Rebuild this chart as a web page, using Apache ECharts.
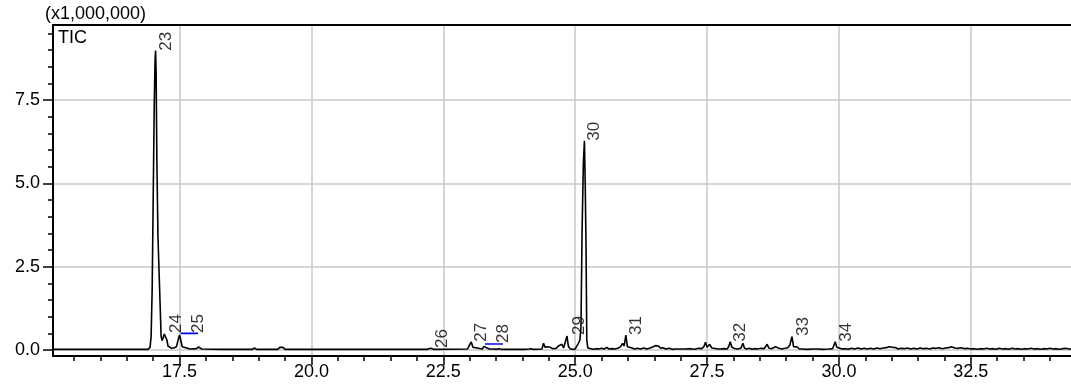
<!DOCTYPE html>
<html>
<head>
<meta charset="utf-8">
<script src="https://cdn.jsdelivr.net/npm/echarts@6/dist/echarts.min.js"></script>
<style>
  html, body { margin: 0; padding: 0; background: #fff; }
  #chart { width: 1071px; height: 385px; }
</style>
</head>
<body>
<div id="chart"></div>
<script>
// Total ion chromatogram: retention time (min) vs. intensity (x1,000,000)
const traceTimes = [
  15.10, 16.00, 16.90, 16.94, 16.96, 16.98, 17.00, 17.02, 17.035, 17.045, 17.055, 17.07, 17.09, 17.11, 17.13,
  17.15, 17.17, 17.19, 17.21, 17.235, 17.26, 17.28, 17.31, 17.35, 17.40, 17.44, 17.48, 17.50, 17.52, 17.55,
  17.58, 17.70, 17.82, 17.86, 17.89, 17.92, 18.30, 18.88, 18.92, 18.96, 19.36, 19.40, 19.46, 19.50, 19.78,
  19.81, 19.84, 22.20, 22.26, 22.31, 22.96, 23.00, 23.03, 23.06, 23.09, 23.24, 23.27, 23.30, 23.33, 23.37,
  23.45, 23.48, 23.51, 23.55, 23.60, 23.72, 23.75, 23.78, 24.05, 24.08, 24.12, 24.16, 24.20, 24.37, 24.40,
  24.43, 24.47, 24.50, 24.53, 24.57, 24.60, 24.64, 24.68, 24.71, 24.75, 24.78, 24.80, 24.845, 24.87, 24.90,
  24.95, 25.00, 25.03, 25.06, 25.09, 25.11, 25.13, 25.155, 25.175, 25.19, 25.205, 25.22, 25.24, 25.30, 25.35,
  25.40, 25.45, 25.50, 25.55, 25.60, 25.64, 25.70, 25.76, 25.82, 25.86, 25.90, 25.93, 25.96, 25.99, 26.02,
  26.08, 26.12, 26.18, 26.24, 26.30, 26.36, 26.42, 26.48, 26.52, 26.55, 26.58, 26.62, 26.66, 26.72, 26.78,
  26.84, 26.90, 27.00, 27.10, 27.18, 27.26, 27.34, 27.40, 27.44, 27.47, 27.50, 27.55, 27.59, 27.63, 27.66,
  27.70, 27.76, 27.82, 27.88, 27.91, 27.94, 27.97, 28.01, 28.06, 28.10, 28.14, 28.18, 28.21, 28.25, 28.30,
  28.35, 28.40, 28.46, 28.52, 28.58, 28.61, 28.64, 28.67, 28.72, 28.76, 28.80, 28.83, 28.86, 28.92, 28.98,
  29.03, 29.07, 29.11, 29.14, 29.17, 29.21, 29.25, 29.32, 29.40, 29.50, 29.60, 29.70, 29.80, 29.88, 29.93,
  29.96, 29.99, 30.06, 30.12, 30.18, 30.24, 30.30, 30.36, 30.42, 30.48, 30.54, 30.60, 30.66, 30.72, 30.78,
  30.84, 30.90, 30.95, 30.98, 31.02, 31.08, 31.12, 31.18, 31.24, 31.30, 31.36, 31.42, 31.48, 31.54, 31.60,
  31.66, 31.72, 31.78, 31.84, 31.90, 31.96, 32.02, 32.08, 32.13, 32.16, 32.20, 32.26, 32.32, 32.38, 32.44,
  32.50, 32.56, 32.62, 32.68, 32.74, 32.80, 32.86, 32.92, 32.98, 33.04, 33.10, 33.16, 33.22, 33.28, 33.34,
  33.40, 33.46, 33.52, 33.58, 33.64, 33.70, 33.76, 33.82, 33.88, 33.94, 34.00, 34.06, 34.12, 34.18, 34.24,
  34.30, 34.36, 34.40
];
const traceIntensity = [
  0.02, 0.02, 0.02, 0.08, 0.40, 1.80, 4.60, 7.40, 8.70, 8.98, 8.30, 5.60, 3.40, 2.40, 1.40,
  0.40, 0.28, 0.34, 0.48, 0.51, 0.30, 0.12, 0.06, 0.05, 0.07, 0.10, 0.35, 0.45, 0.40, 0.10,
  0.04, 0.03, 0.04, 0.09, 0.09, 0.03, 0.02, 0.02, 0.06, 0.02, 0.02, 0.08, 0.08, 0.02, 0.02,
  0.05, 0.02, 0.02, 0.05, 0.02, 0.03, 0.16, 0.24, 0.08, 0.03, 0.03, 0.11, 0.15, 0.06, 0.03,
  0.03, 0.05, 0.02, 0.04, 0.02, 0.02, 0.05, 0.02, 0.02, 0.04, 0.03, 0.04, 0.02, 0.03, 0.20,
  0.08, 0.10, 0.05, 0.08, 0.04, 0.07, 0.05, 0.12, 0.06, 0.17, 0.06, 0.10, 0.42, 0.12, 0.04,
  0.02, 0.03, 0.05, 0.20, 0.30, 0.70, 3.50, 5.60, 6.28, 5.00, 3.20, 0.30, 0.06, 0.04, 0.02,
  0.04, 0.03, 0.05, 0.03, 0.08, 0.03, 0.04, 0.03, 0.06, 0.10, 0.20, 0.12, 0.45, 0.10, 0.04,
  0.06, 0.03, 0.05, 0.03, 0.06, 0.03, 0.06, 0.10, 0.13, 0.08, 0.12, 0.05, 0.07, 0.03, 0.05,
  0.02, 0.03, 0.03, 0.03, 0.04, 0.02, 0.05, 0.04, 0.10, 0.23, 0.08, 0.17, 0.06, 0.05, 0.08,
  0.03, 0.03, 0.04, 0.03, 0.10, 0.25, 0.08, 0.05, 0.03, 0.04, 0.05, 0.20, 0.05, 0.03, 0.05,
  0.02, 0.04, 0.03, 0.05, 0.04, 0.08, 0.17, 0.06, 0.04, 0.07, 0.10, 0.12, 0.05, 0.03, 0.05,
  0.07, 0.15, 0.40, 0.10, 0.06, 0.09, 0.03, 0.03, 0.02, 0.03, 0.03, 0.02, 0.03, 0.04, 0.25,
  0.08, 0.04, 0.03, 0.04, 0.02, 0.05, 0.03, 0.06, 0.03, 0.05, 0.03, 0.05, 0.03, 0.06, 0.04,
  0.06, 0.07, 0.10, 0.13, 0.08, 0.07, 0.03, 0.05, 0.04, 0.06, 0.03, 0.05, 0.03, 0.06, 0.04,
  0.05, 0.03, 0.06, 0.05, 0.07, 0.04, 0.06, 0.07, 0.10, 0.14, 0.06, 0.05, 0.07, 0.04, 0.05,
  0.03, 0.04, 0.02, 0.04, 0.03, 0.05, 0.03, 0.04, 0.02, 0.05, 0.03, 0.04, 0.02, 0.05, 0.03,
  0.04, 0.02, 0.04, 0.03, 0.05, 0.03, 0.04, 0.02, 0.04, 0.03, 0.05, 0.03, 0.04, 0.02, 0.04,
  0.05, 0.03, 0.03
];

// Peak numbers and the retention time / height where each number is placed
const peakIds = ['23', '24', '25', '26', '27', '28', '29', '30', '31', '32', '33', '34'];
const peakTimes = [17.05, 17.253, 17.66, 22.30, 23.04, 23.44, 24.88, 25.175, 25.965, 27.94, 29.13, 29.96];
const peakHeights = [8.98, 0.51, 0.51, 0.06, 0.25, 0.21, 0.45, 6.28, 0.45, 0.25, 0.42, 0.25];

// Integration baselines drawn under unresolved peak groups
const baselineStarts = [17.52, 23.29];
const baselineEnds = [17.85, 23.63];
const baselineLevels = [0.50, 0.18];

// Axis ticks
const xMajorTicks = [17.5, 20.0, 22.5, 25.0, 27.5, 30.0, 32.5];
const xMinorTicks = [15.5, 16.0, 16.5, 17.0, 18.0, 18.5, 19.0, 19.5, 20.5, 21.0, 21.5, 22.0, 23.0, 23.5, 24.0,
  24.5, 25.5, 26.0, 26.5, 27.0, 28.0, 28.5, 29.0, 29.5, 30.5, 31.0, 31.5, 32.0, 33.0, 33.5, 34.0];
const yMajorTicks = [0.0, 2.5, 5.0, 7.5];
const yMinorTicks = [0.5, 1.0, 1.5, 2.0, 3.0, 3.5, 4.0, 4.5, 5.5, 6.0, 6.5, 7.0, 8.0, 8.5, 9.0, 9.5];

const X_MIN = 15.1, X_MAX = 34.4, Y_MIN = -0.18, Y_MAX = 9.75;
const FONT = '"Liberation Sans", Arial, sans-serif';
const gridBox = { left: 53, right: 0, top: 25, bottom: 29, containLabel: false };

const chart = echarts.init(document.getElementById('chart'), null, { renderer: 'canvas' });

const traceData = traceTimes.map((t, i) => [t, traceIntensity[i]]);
const peakData = peakIds.map((id, i) => ({ value: [peakTimes[i], peakHeights[i]], name: id }));
const baselineSeries = baselineStarts.map((s, i) => ({
  type: 'line',
  xAxisIndex: 0, yAxisIndex: 0,
  data: [[s, baselineLevels[i]], [baselineEnds[i], baselineLevels[i]]],
  showSymbol: false,
  silent: true,
  lineStyle: { color: '#0000ff', width: 1.6 },
  z: 4
}));

const hidden = { show: false };

chart.setOption({
  animation: false,
  backgroundColor: '#ffffff',
  grid: [
    Object.assign({}, gridBox),
    Object.assign({}, gridBox)
  ],
  xAxis: [
    {
      gridIndex: 0, type: 'value', position: 'bottom', min: X_MIN, max: X_MAX,
      axisLine: { show: true, onZero: false, lineStyle: { color: '#000', width: 2 } },
      axisTick: { show: true, customValues: xMajorTicks, length: 9, lineStyle: { color: '#000', width: 1.5 } },
      axisLabel: {
        customValues: xMajorTicks, margin: 7, color: '#000', fontFamily: FONT, fontSize: 18,
        formatter: v => v.toFixed(1)
      },
      splitLine: { show: true, lineStyle: { color: '#c8c8c8', width: 1.5 } }
    },
    {
      gridIndex: 0, type: 'value', position: 'top', min: X_MIN, max: X_MAX,
      axisLine: { show: true, onZero: false, lineStyle: { color: '#000', width: 2 } },
      axisTick: hidden, axisLabel: hidden, splitLine: hidden
    },
    {
      gridIndex: 1, type: 'value', position: 'bottom', min: X_MIN, max: X_MAX,
      axisLine: { show: false, onZero: false },
      axisTick: { show: true, customValues: xMinorTicks, length: 5, lineStyle: { color: '#000', width: 1.5 } },
      axisLabel: hidden, splitLine: hidden
    }
  ],
  yAxis: [
    {
      gridIndex: 0, type: 'value', position: 'left', min: Y_MIN, max: Y_MAX,
      axisLine: { show: true, onZero: false, lineStyle: { color: '#000', width: 2 } },
      axisTick: { show: true, customValues: yMajorTicks, length: 10, lineStyle: { color: '#000', width: 1.5 } },
      axisLabel: {
        customValues: yMajorTicks, margin: 13, color: '#000', fontFamily: FONT, fontSize: 18,
        formatter: v => v.toFixed(1)
      },
      splitLine: { show: true, lineStyle: { color: '#c8c8c8', width: 1.5 } }
    },
    {
      gridIndex: 1, type: 'value', position: 'left', min: Y_MIN, max: Y_MAX,
      axisLine: { show: false, onZero: false },
      axisTick: { show: true, customValues: yMinorTicks, length: 5, lineStyle: { color: '#000', width: 1.5 } },
      axisLabel: hidden, splitLine: hidden
    }
  ],
  graphic: [
    {
      type: 'text', left: 45, top: 5, silent: true,
      style: { text: '(x1,000,000)', fill: '#000', font: '18px ' + FONT }
    },
    {
      type: 'text', left: 58, top: 29, silent: true,
      style: { text: 'TIC', fill: '#000', font: '18px ' + FONT }
    }
  ],
  series: [
    {
      type: 'line',
      xAxisIndex: 0, yAxisIndex: 0,
      data: traceData,
      showSymbol: false,
      silent: true,
      lineStyle: { color: '#000', width: 1.6 },
      z: 3
    },
    ...baselineSeries,
    {
      type: 'scatter',
      xAxisIndex: 0, yAxisIndex: 0,
      data: peakData,
      symbolSize: 0,
      silent: true,
      z: 5,
      label: {
        show: true,
        position: 'inside',
        rotate: 90,
        align: 'left',
        verticalAlign: 'middle',
        offset: [0, 10],
        formatter: p => p.name,
        color: '#000',
        fontFamily: FONT,
        fontSize: 17
      }
    }
  ]
});
</script>
</body>
</html>
